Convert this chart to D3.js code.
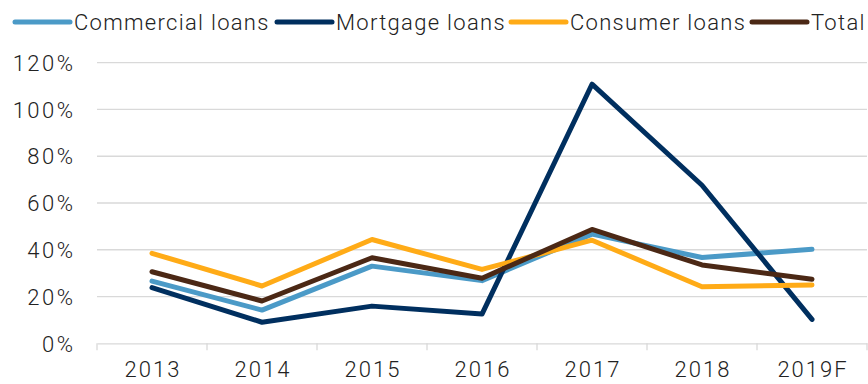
<!DOCTYPE html>
<html>
<head>
<meta charset="utf-8">
<script src="https://cdn.jsdelivr.net/npm/d3@7"></script>
<style>
  html, body { margin: 0; padding: 0; background: #fff; }
  svg text { font-family: Roboto, "Noto Sans", sans-serif; font-weight: 300; fill: #222; }
</style>
</head>
<body>
<svg id="chart" width="868" height="384"></svg>
<script>
// Loan growth by segment, year on year
const years = ["2013", "2014", "2015", "2016", "2017", "2018", "2019F"];
const commercialLoans = [26.6, 14.2, 33.0, 26.8, 46.7, 36.7, 40.2];
const mortgageLoans   = [23.8,  9.0, 15.9, 12.5, 110.8, 67.6, 10.2];
const consumerLoans   = [38.5, 24.5, 44.4, 31.6, 44.1, 24.2, 24.9];
const totalLoans      = [30.6, 18.1, 36.6, 27.8, 48.7, 33.5, 27.4];
const yTicks = [0, 20, 40, 60, 80, 100, 120];

const seriesNames  = ["Commercial loans", "Mortgage loans", "Consumer loans", "Total"];
const seriesColors = ["#4b9ac7", "#002f5f", "#ffab17", "#4b2815"];
const seriesValues = [commercialLoans, mortgageLoans, consumerLoans, totalLoans];

const svg = d3.select("#chart");
const plotLeft = 97, plotRight = 867, plotTop = 62.7, plotBottom = 343.3;

const x = d3.scaleBand().domain(years).range([plotLeft, plotRight]);
const y = d3.scaleLinear().domain([0, 120]).range([plotBottom, plotTop]);

// horizontal gridlines
svg.append("g")
  .selectAll("line")
  .data(yTicks.filter(d => d > 0))
  .join("line")
  .attr("x1", plotLeft).attr("x2", plotRight)
  .attr("y1", d => y(d)).attr("y2", d => y(d))
  .attr("stroke", "#d9d9d9").attr("stroke-width", 1.3);

// y-axis labels
const yAxis = d3.axisLeft(y).tickValues(yTicks).tickFormat(d => d + "%").tickSize(0).tickPadding(0);
const yg = svg.append("g").attr("transform", "translate(75.5,0)").call(yAxis);
yg.select(".domain").remove();
yg.selectAll("text").style("font-size", "22px").style("letter-spacing", "2.5px").attr("dy", "0.35em");

// x axis with category boundary ticks
const xg = svg.append("g").attr("transform", `translate(0,${plotBottom})`)
  .call(d3.axisBottom(x).tickSize(0).tickPadding(0));
xg.select(".domain").attr("stroke", "#d9d9d9").attr("stroke-width", 1.3);
xg.selectAll("text").style("font-size", "22px").style("letter-spacing", "2px")
  .attr("x", 1).attr("y", 34).attr("dy", "0");
const bounds = years.map(d => x(d)).concat([plotRight]);
xg.append("g").selectAll("line").data(bounds).join("line")
  .attr("x1", d => d).attr("x2", d => d)
  .attr("y1", 0).attr("y2", 7)
  .attr("stroke", "#d9d9d9").attr("stroke-width", 1.3);

// series lines
const line = d3.line()
  .x((d, i) => x(years[i]) + x.bandwidth() / 2)
  .y(d => y(d));

svg.append("g").selectAll("path")
  .data(seriesValues)
  .join("path")
  .attr("d", d => line(d))
  .attr("fill", "none")
  .attr("stroke", (d, i) => seriesColors[i])
  .attr("stroke-width", 5)
  .attr("stroke-linejoin", "round")
  .attr("stroke-linecap", "round");

// legend
const legendX = [15, 277, 511, 752];
const legend = svg.append("g").selectAll("g")
  .data(seriesNames)
  .join("g")
  .attr("transform", (d, i) => `translate(${legendX[i]},22)`);
legend.append("line")
  .attr("x1", 0).attr("x2", 55).attr("y1", 0).attr("y2", 0)
  .attr("stroke", (d, i) => seriesColors[i])
  .attr("stroke-width", 5).attr("stroke-linecap", "round");
legend.append("text")
  .attr("x", 59).attr("dy", "0.35em")
  .style("font-size", "22px").style("letter-spacing", "1.3px")
  .text(d => d);
</script>
</body>
</html>
